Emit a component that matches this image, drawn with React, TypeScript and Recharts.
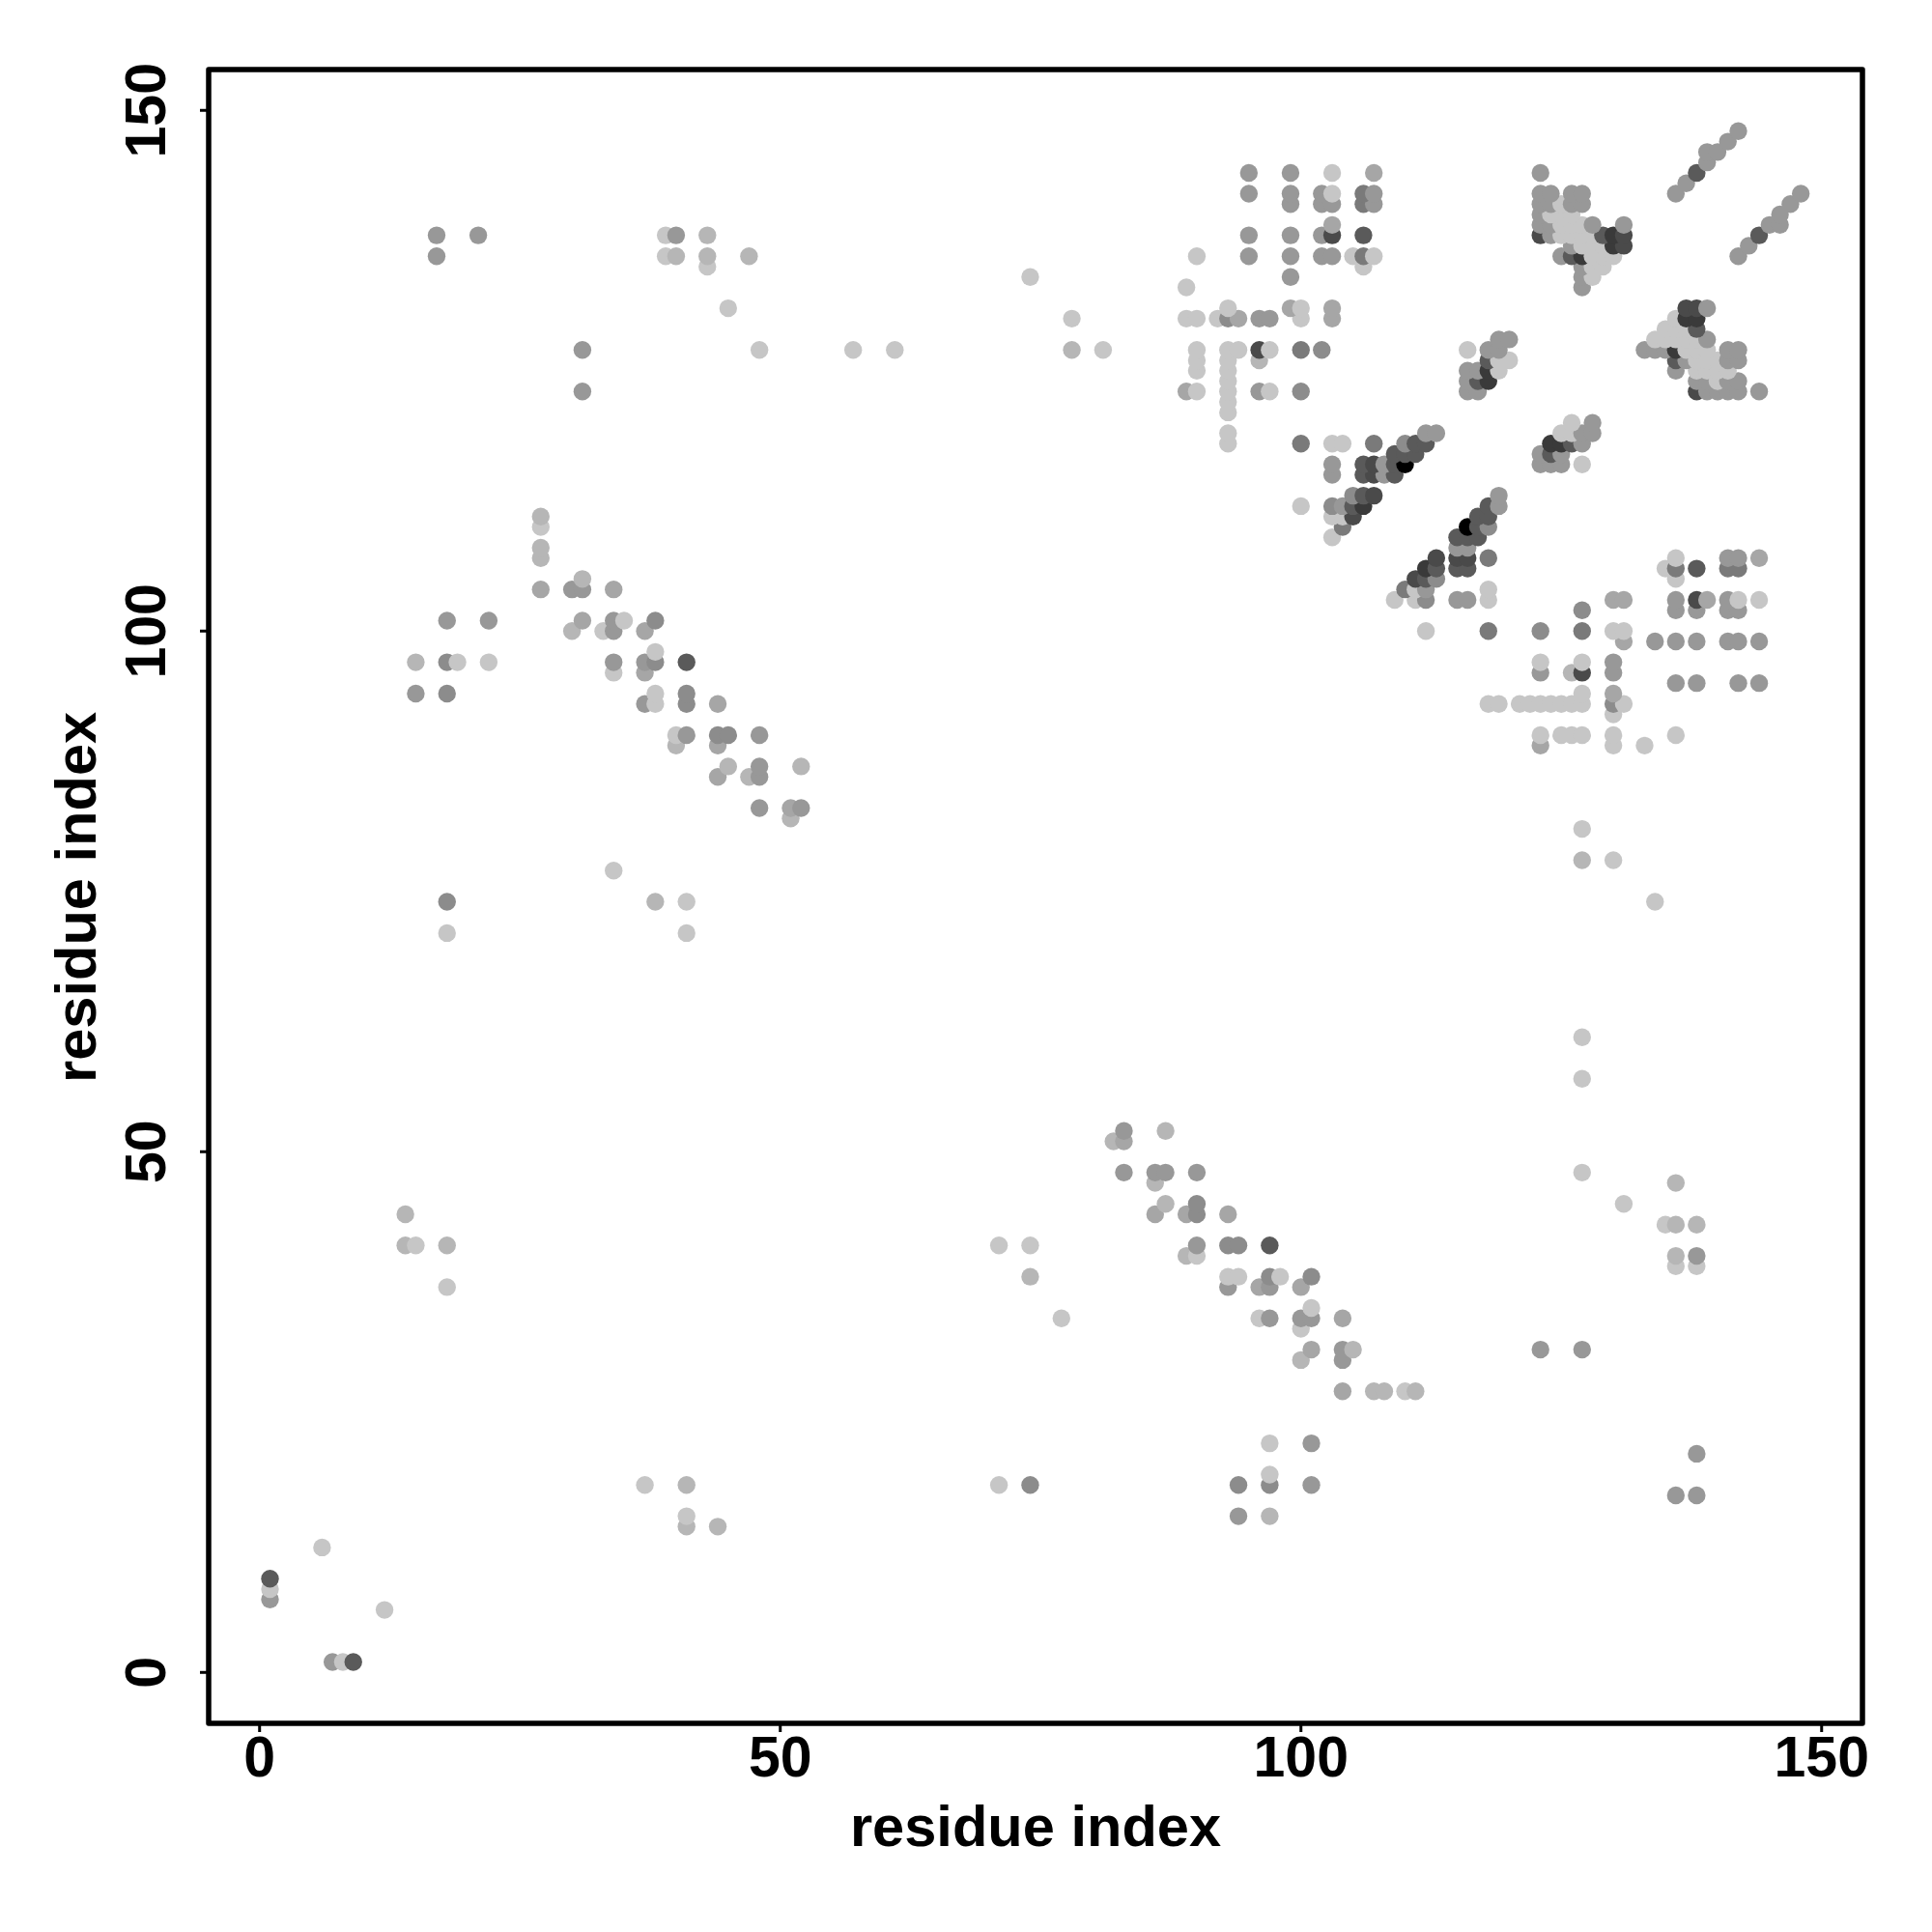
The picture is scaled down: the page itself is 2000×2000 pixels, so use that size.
import React from 'react';
import { ScatterChart, Scatter, XAxis, YAxis, ReferenceArea } from 'recharts';

// contact pairs, lower residue first, the map is symmetric
const shade1 = [
  [1, 8], [6, 12], [15, 41], [18, 37], [19, 97], [22, 97], [27, 110], [33, 100], [34, 77], [34, 96], [35, 101],
  [18, 71], [38, 93], [38, 94], [38, 98], [39, 136], [39, 138], [40, 90], [41, 71], [41, 74], [43, 135], [45, 131],
  [48, 127], [57, 127], [61, 127], [74, 134], [78, 130], [81, 127],
  [89, 130], [89, 133], [90, 123], [90, 125], [90, 126], [90, 127], [90, 130], [90, 136], [92, 130],
  [93, 118], [93, 119], [93, 121], [93, 122], [93, 123], [93, 124], [93, 125], [93, 126], [93, 127], [93, 131],
  [94, 127], [97, 123], [97, 127], [100, 112], [100, 130], [100, 131],
  [103, 109], [103, 111], [103, 118], [103, 142], [103, 144], [104, 111], [104, 118], [105, 136], [106, 135], [107, 136],
  [116, 127], [119, 125], [119, 126], [120, 126],
  [125, 141], [124, 140], [125, 140], [126, 140], [125, 139], [126, 139], [127, 139],
  [125, 138], [126, 138], [127, 138], [128, 138], [127, 137], [128, 137], [129, 137],
  [128, 136], [129, 136], [130, 136], [128, 135], [129, 135], [128, 134],
];
const shade2 = [
  [14, 41], [14, 44], [15, 97], [18, 41], [27, 107], [27, 108], [27, 111], [30, 100], [31, 105],
  [38, 74], [40, 89], [40, 136], [43, 136], [43, 138], [45, 87], [47, 86], [47, 136], [51, 82], [52, 87], [78, 127], [96, 126],
];
const shade3 = [
  [27, 104], [31, 101], [34, 104], [37, 96], [37, 100], [44, 86], [44, 89], [44, 93], [51, 83],
  [89, 123], [94, 130], [99, 131], [103, 130], [103, 131], [103, 139], [107, 144],
];
const shade4 = [
  [1, 7], [15, 94], [17, 136], [17, 138], [21, 138], [18, 101], [22, 101], [30, 104], [31, 104], [31, 123], [31, 127],
  [34, 97], [34, 100], [34, 101], [37, 93], [37, 97], [40, 138], [41, 90], [48, 83], [48, 86], [48, 87], [48, 90], [52, 83],
  [95, 136], [95, 138], [95, 142], [95, 144], [96, 123], [96, 130], [97, 130],
  [99, 134], [99, 136], [99, 138], [99, 141], [99, 142], [99, 144],
  [102, 136], [102, 138], [102, 141], [102, 142], [103, 115], [103, 116], [103, 136], [103, 141],
  [104, 112], [107, 141], [107, 142], [108, 115], [108, 116], [112, 119], [113, 119],
  [116, 123], [116, 124], [116, 125], [117, 123], [117, 125], [118, 127], [119, 127], [119, 128], [120, 128],
  [123, 139], [123, 140], [123, 141], [123, 142], [123, 144], [124, 138], [124, 139], [124, 141], [124, 142],
  [125, 136], [126, 137], [126, 141], [126, 142], [127, 133], [127, 134], [127, 135], [127, 141], [127, 142],
  [128, 139], [131, 139], [136, 142], [137, 143], [139, 145], [139, 146], [140, 146], [141, 147], [142, 148],
];
const shade5 = [
  [18, 74], [18, 94], [18, 97], [38, 97], [38, 101], [41, 93], [41, 94], [44, 90], [45, 90],
  [93, 130], [100, 123], [102, 127], [103, 112], [105, 113], [110, 118],
];
const shade6 = [[100, 118], [100, 127], [104, 110], [106, 136], [106, 141], [106, 142], [107, 118]];
const shade7 = [
  [1, 9], [41, 97], [105, 112], [106, 113], [106, 115], [106, 116], [106, 138], [109, 115], [109, 116], [109, 117],
  [110, 117], [111, 117], [111, 118], [112, 118], [117, 124], [118, 126], [126, 136], [129, 138], [138, 144],
];
const shade8 = [
  [96, 127], [103, 138], [105, 111], [107, 113], [107, 115], [107, 116], [123, 138], [131, 137], [131, 138],
];
const shade9 = [[106, 112], [118, 124], [118, 125], [127, 136], [130, 137], [130, 138]];
const shade10 = [[110, 116]];

const levels = [shade1, shade2, shade3, shade4, shade5, shade6, shade7, shade8, shade9, shade10];
const greys = ['#c6c6c6', '#b6b6b6', '#a6a6a6', '#989898', '#8c8c8c', '#7a7a7a', '#5a5a5a', '#4a4a4a', '#3a3a3a', '#000000'];

const axisTicks = [0, 50, 100, 150];
const axisTitle = 'residue index';

// both halves of the map, drawn row by row from the bottom up
const contacts = levels
  .flatMap((pairs, i) =>
    pairs.flatMap(([a, b]) => [
      { x: a, y: b, fill: greys[i] },
      { x: b, y: a, fill: greys[i] },
    ]),
  )
  .sort((p, q) => p.y - q.y || p.x - q.x);

const FONT = '"Liberation Sans", Arial, sans-serif';
const XMIN = -4.89;
const XMAX = 153.92;

const YTick = ({ x, y, payload }: any) => (
  <text
    x={x - 34}
    y={y}
    transform={`rotate(-90, ${x - 34}, ${y})`}
    textAnchor="middle"
    fontFamily={FONT}
    fontWeight="bold"
    fontSize={59}
    fill="#000"
  >
    {payload.value}
  </text>
);

const Dot = (props: any) => <circle cx={props.cx} cy={props.cy} r={9.2} fill={props.payload.fill} />;

export default function App() {
  return (
    <div style={{ position: 'absolute', left: 0, top: 0 }}>
      <ScatterChart width={2000} height={2000} margin={{ top: 72, right: 72, bottom: 16, left: 116 }}>
        <XAxis
          type="number"
          dataKey="x"
          domain={[XMIN, XMAX]}
          ticks={axisTicks}
          allowDataOverflow
          height={200}
          axisLine={false}
          tickSize={9}
          tickLine={{ stroke: '#000', strokeWidth: 3 }}
          tickMargin={4}
          tick={{ fontFamily: FONT, fontWeight: 'bold', fontSize: 59, fill: '#000' }}
          label={{ value: axisTitle, position: 'insideBottom', offset: 73, fontFamily: FONT, fontWeight: 'bold', fontSize: 59.6, fill: '#000' }}
        />
        <YAxis
          type="number"
          dataKey="y"
          domain={[XMIN, XMAX]}
          ticks={axisTicks}
          allowDataOverflow
          width={100}
          axisLine={false}
          tickSize={9}
          tickLine={{ stroke: '#000', strokeWidth: 3 }}
          tick={<YTick />}
          label={{ value: axisTitle, angle: -90, position: 'insideLeft', offset: -38, dy: 193, fontFamily: FONT, fontWeight: 'bold', fontSize: 59.6, fill: '#000' }}
        />
        <Scatter data={contacts} isAnimationActive={false} shape={<Dot />} />
        <ReferenceArea
          x1={XMIN}
          x2={XMAX}
          y1={XMIN}
          y2={XMAX}
          fill="none"
          stroke="#000"
          strokeWidth={5.5}
          strokeOpacity={1}
          strokeLinejoin="round"
          ifOverflow="visible"
        />
      </ScatterChart>
    </div>
  );
}
